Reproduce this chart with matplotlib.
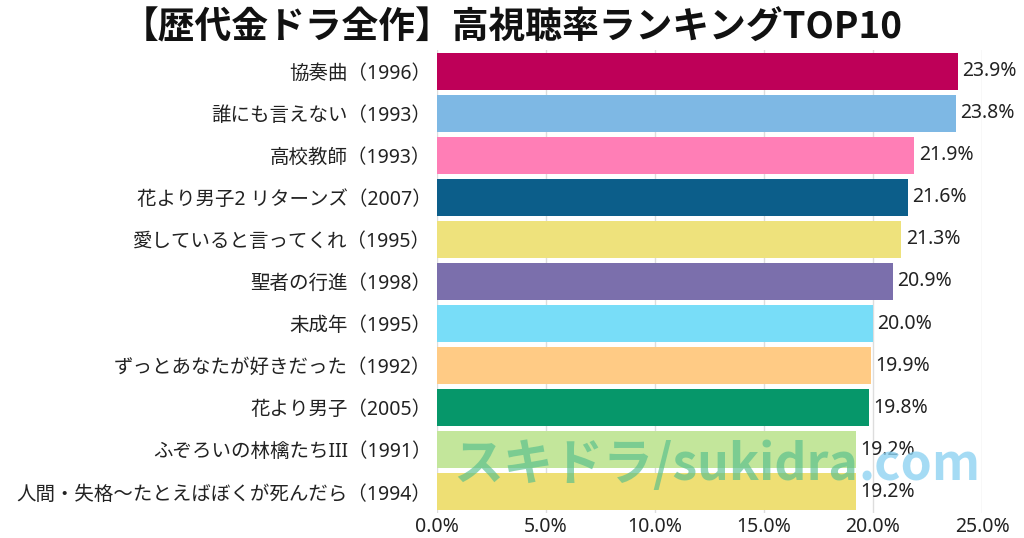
import matplotlib
matplotlib.use("Agg")
import matplotlib.pyplot as plt
from matplotlib.ticker import FuncFormatter

plt.rcParams['font.family'] = ['Noto Sans', 'Noto Sans CJK JP', 'DejaVu Sans']

titles = [
    "協奏曲（1996）",
    "誰にも言えない（1993）",
    "高校教師（1993）",
    "花より男子2 リターンズ（2007）",
    "愛していると言ってくれ（1995）",
    "聖者の行進（1998）",
    "未成年（1995）",
    "ずっとあなたが好きだった（1992）",
    "花より男子（2005）",
    "ふぞろいの林檎たちIII（1991）",
    "人間・失格〜たとえばぼくが死んだら（1994）",
]
ratings = [23.9, 23.8, 21.9, 21.6, 21.3, 20.9, 20.0, 19.9, 19.8, 19.2, 19.2]
colors = [
    "#BE0058", "#7EB8E4", "#FF7EB6", "#0C5E8A", "#EEE27C", "#7B6FAC",
    "#78DDF8", "#FFCB85", "#06976A", "#C3E69B", "#EEDF74",
]

fig = plt.figure(figsize=(10.24, 5.38), dpi=100)
ax = fig.add_axes([437 / 1024, 1 - 513 / 538, (982 - 437) / 1024, (513 - 50) / 538])

ypos = list(range(len(titles)))
ax.barh(ypos, ratings, height=0.88, color=colors, zorder=2)
for y, v in zip(ypos, ratings):
    ax.text(v + 0.2, y, f"{v:.1f}%", va="center", ha="left", fontsize=14,
            color="#222222", zorder=3)

ax.set_yticks(ypos)
ax.set_yticklabels(titles, fontsize=14, color="#222222")
ax.set_ylim(len(titles) - 0.5, -0.5)
ax.set_xlim(0, 25)
ax.set_xticks([0, 5, 10, 15, 20, 25])
ax.xaxis.set_major_formatter(FuncFormatter(lambda x, _: f"{x:.1f}%"))
ax.tick_params(axis="x", labelsize=14, colors="#222222", length=0, pad=3)
ax.tick_params(axis="y", length=0, pad=4)
ax.grid(axis="x", color="#dddddd", linewidth=1, zorder=0)
for s in ax.spines.values():
    s.set_visible(False)

fig.text(0.5, 1 - 28 / 538, "【歴代金ドラ全作】高視聴率ランキングTOP10",
         ha="center", va="center", fontsize=26.5, fontweight="bold", color="#111111",
         family=['Noto Sans CJK JP'])

# watermark
fig.text(858 / 1024, 1 - 466 / 538, "スキドラ/sukidra", ha="right", va="center",
         fontsize=36, fontweight="bold", color="#55BE8C", alpha=0.65, zorder=10,
         family=['Noto Sans CJK JP'])
fig.text(858 / 1024, 1 - 466 / 538, ".com", ha="left", va="center",
         fontsize=36, fontweight="bold", color="#8FD3F2", alpha=0.8, zorder=10,
         family=['Noto Sans CJK JP'])

fig.savefig("out.png", dpi=100)
